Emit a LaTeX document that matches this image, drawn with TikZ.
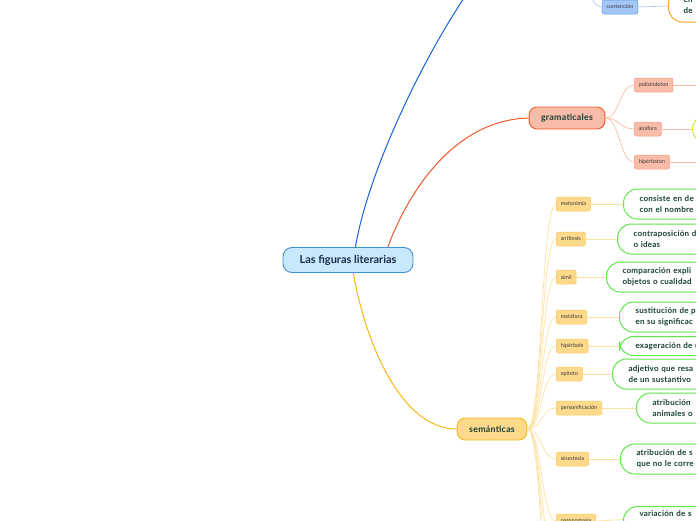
\documentclass[tikz,border=0pt]{standalone}
\usepackage{fontspec}
\setmainfont{Lato}
\newfontfamily\spacedfont{Lato}[LetterSpace=3]
\definecolor{rootfill}{HTML}{C8E8FB}
\definecolor{rootline}{HTML}{3F8FD8}
\definecolor{rootink}{HTML}{1C2B4E}
\definecolor{branchink}{HTML}{173F37}
\definecolor{leafink}{HTML}{3A3A3A}
\definecolor{bluelink}{HTML}{1662D9}
\definecolor{bluefill}{HTML}{A3C8F7}
\definecolor{blueline}{HTML}{5B9BE8}
\definecolor{bluethin}{HTML}{A9C9F2}
\definecolor{gramfill}{HTML}{F9BCA8}
\definecolor{gramline}{HTML}{F0582A}
\definecolor{gramsoft}{HTML}{F59B83}
\definecolor{gramthin}{HTML}{FBB9A4}
\definecolor{semfill}{HTML}{FDD98B}
\definecolor{semline}{HTML}{F9B51C}
\definecolor{semsoft}{HTML}{FBC85A}
\definecolor{semthin}{HTML}{FDE1A0}
\definecolor{defline}{HTML}{5FE84A}
\definecolor{limeline}{HTML}{CCF21A}
\definecolor{orangeline}{HTML}{F8A531}
\begin{document}
\begin{tikzpicture}[x=1pt,y=-1pt,
    root/.style={draw=rootline, fill=rootfill, line width=0.9pt, rounded corners=9pt,
        minimum width=130pt, minimum height=25pt, text=rootink,
        font=\fontsize{11}{13}\selectfont\bfseries},
    branch/.style={line width=0.9pt, rounded corners=8pt, minimum height=22pt,
        inner xsep=12pt, text=branchink, font=\spacedfont\fontsize{8.8}{10}\selectfont\bfseries},
    leaf/.style={line width=0.5pt, rounded corners=2pt, minimum height=14pt,
        inner xsep=4.5pt, inner ysep=0pt, anchor=west, text=leafink,
        font=\fontsize{5.5}{6.5}\selectfont},
    defbox/.style={draw=defline, fill=white, line width=1pt, rounded corners=14pt,
        anchor=west, align=left, inner xsep=16pt, inner ysep=4pt, text width=140pt,
        text=branchink, font=\spacedfont\fontsize{8}{11}\selectfont\bfseries},
    semlink/.style={draw=semthin, line width=0.7pt},
    gramlink/.style={draw=gramthin, line width=0.7pt}]
    \useasboundingbox (0,0) rectangle (696,520);
    \clip (0,0) rectangle (696,520);
    % Central topic
    \node[root] (figuras) at (348,260) {Las figuras literarias};
    % Upper branch (off the page)
    \coordinate (upper) at (484,-30);
    \coordinate (upperedge) at (570,-40);
    \draw[bluelink, line width=1pt] (figuras.60) .. controls (368,170) and (430,40) .. (upper);
    \node[leaf, draw=blueline, fill=bluefill, anchor=center] (contencion) at (620,7) {contención};
    \draw[bluethin, line width=0.7pt] (upperedge) .. controls +(15,0) and +(-15,0) .. (contencion.west);
    \node[defbox, draw=orangeline, minimum height=32pt, inner xsep=15pt] (contdef) at (668,6) {en\\de};
    \draw[bluethin, line width=0.7pt] (contencion.east) -- (contdef.west);
    % Gramaticales
    \node[branch, draw=gramline, fill=gramfill] (gram) at (567,118) {gramaticales};
    \draw[gramline, line width=1pt] (figuras.18) .. controls (405,200) and (450,120) .. (gram.west);
    \foreach \nm/\yy/\lab in {polis/85/polisíndeton, anaf/129/anáfora, hiper/162/hipérbaton}{
        \node[leaf, draw=gramsoft, fill=gramfill] (\nm) at (634,\yy) {\lab};
        \draw[gramlink] (gram.east) .. controls +(14,0) and +(-14,0) .. (\nm.west);
    }
    \coordinate (polisend) at (700,85);
    \coordinate (hiperend) at (700,162);
    \draw[gramlink] (polis.east) -- (polisend);
    \draw[gramlink] (hiper.east) -- (hiperend);
    \node[defbox, draw=limeline, minimum height=28pt] (anafdef) at (692,129) {};
    \draw[gramlink] (anaf.east) -- (anafdef.west);
    % Semanticas
    \node[branch, draw=semline, fill=semfill] (sem) at (492,429) {semánticas};
    \draw[semline, line width=1pt] (figuras.-68) .. controls (365,340) and (400,429) .. (sem.west);
    \foreach \nm/\yy/\lab/\dx/\hh/\txt in {
        meto/204/metonimia/623/30/{consiste en de\\con el nombre},
        anti/239/antítesis/617/30/{contraposición d\\o ideas},
        simil/277/símil/606/30/{comparación expli\\objetos o cualidad},
        meta/317/metáfora/619/30/{sustitución de p\\en su significac},
        hipe/346/hipérbole/619/19/{exageración de u},
        epit/374/epíteto/612/30/{adjetivo que resa\\de un sustantivo},
        perso/408/personificación/636/30/{atribución\\animales o},
        sines/459/sinestesia/620/30/{atribución de s\\que no le corre}}{
        \node[leaf, draw=semsoft, fill=semfill] (\nm) at (556,\yy) {\lab};
        \node[defbox, minimum height=\hh pt] (\nm-def) at (\dx,\yy) {\txt};
        \draw[semlink] (sem.east) .. controls +(15,0) and +(-15,0) .. (\nm.west);
        \draw[semlink] (\nm.east) -- (\nm-def.west);
    }
    \node[leaf, draw=semsoft, fill=semfill] (parono) at (556,521) {paronomasia};
    \node[defbox, anchor=north west, text depth=12pt] (parono-def) at (623,506) {variación de s};
    \draw[semlink] (sem.east) .. controls +(15,0) and +(-15,0) .. (parono.west);
    \draw[semlink] (parono.east) -- (parono-def.west);
    \foreach \k/\yy in {a/560, b/600, c/640}{
        \coordinate (more\k) at (556,\yy);
        \draw[semlink] (sem.east) .. controls +(15,0) and +(-15,0) .. (more\k);
    }
\end{tikzpicture}
\end{document}
